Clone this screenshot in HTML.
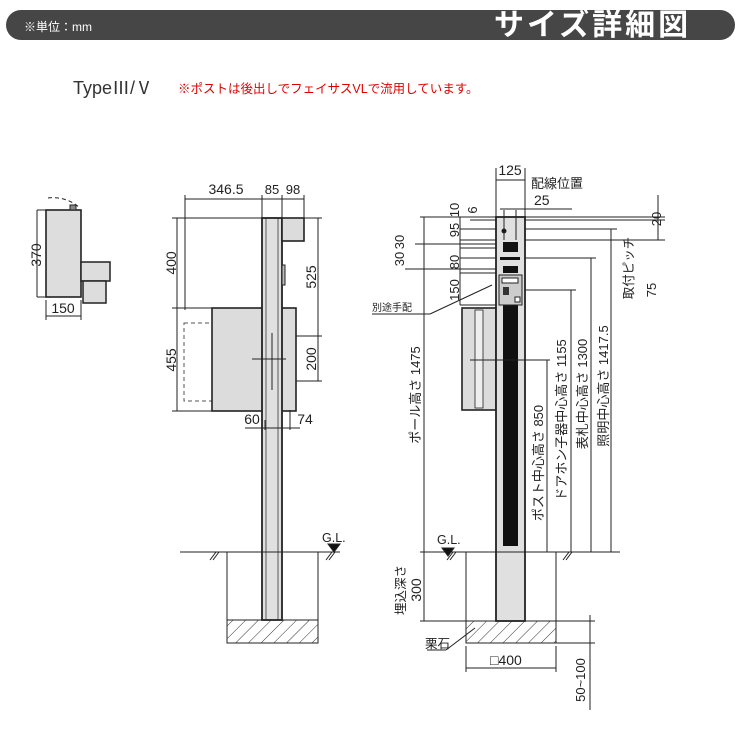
<!DOCTYPE html>
<html><head><meta charset="utf-8"><style>
html,body{margin:0;padding:0;background:#fff;width:740px;height:740px;overflow:hidden}
svg{display:block}
text{font-family:"Liberation Sans","Noto Sans CJK JP",sans-serif;fill:#222}
</style></head><body>
<svg width="740" height="740" viewBox="0 0 740 740" xmlns="http://www.w3.org/2000/svg">
<defs>
<pattern id="h" width="9" height="9" patternUnits="userSpaceOnUse" patternTransform="rotate(45)"><line x1="0" y1="0" x2="0" y2="9" stroke="#333" stroke-width="1"/></pattern>
</defs>
<rect x="6" y="10" width="729" height="30" rx="15" fill="#464646"/>
<text x="24" y="31" font-size="12" style="fill:#fff">※単位：mm</text>
<text x="494" y="35" font-size="30" font-weight="bold" letter-spacing="3" style="fill:#fff">サイズ詳細図</text>
<text x="73" y="94" font-size="18" style="fill:#333">TypeⅢ/Ⅴ</text>
<text x="178" y="93" font-size="12.5" style="fill:#e00000">※ポストは後出しでフェイサスVLで流用しています。</text>

<g stroke="#222" stroke-width="1" fill="none">
<path d="M48 198 A40 40 0 0 1 80 208" stroke-dasharray="4 3"/>
<rect x="46" y="210" width="35" height="87" fill="#ddd" stroke-width="1.6"/>
<rect x="81" y="262" width="29" height="19" fill="#ddd" stroke-width="1.5"/>
<rect x="83" y="281" width="23" height="22" fill="#ddd" stroke-width="1.5"/>
<rect x="70" y="205" width="6" height="5" fill="#888"/>
<line x1="37" y1="210" x2="46" y2="210"/><line x1="37" y1="297" x2="46" y2="297"/>
<line x1="37" y1="210" x2="37" y2="297"/>
<line x1="46" y1="300" x2="46" y2="320"/><line x1="81" y1="300" x2="81" y2="320"/>
<line x1="46" y1="316" x2="81" y2="316"/>

<line x1="185" y1="199" x2="304" y2="199"/>
<line x1="185" y1="195" x2="185" y2="310"/>
<line x1="262" y1="195" x2="262" y2="218"/><line x1="282" y1="195" x2="282" y2="218"/><line x1="304" y1="195" x2="304" y2="218"/>
<line x1="172" y1="218" x2="262" y2="218"/><line x1="172" y1="308" x2="212" y2="308"/><line x1="172" y1="411" x2="212" y2="411"/>
<line x1="177" y1="218" x2="177" y2="411"/>
<line x1="304" y1="218" x2="322" y2="218"/><line x1="296" y1="336" x2="322" y2="336"/><line x1="296" y1="381" x2="322" y2="381"/>
<line x1="318" y1="218" x2="318" y2="381"/>
<rect x="184" y="323" width="28" height="78" stroke-dasharray="4 3" stroke="#555"/>
<rect x="212" y="308" width="84" height="103" fill="#dcdcdc" stroke-width="1.6"/>
<rect x="262" y="218" width="20" height="402" fill="#e0e0e0" stroke-width="1.8"/>
<line x1="266" y1="218" x2="266" y2="620" stroke-width="0.7"/><line x1="278" y1="218" x2="278" y2="620" stroke-width="0.7"/>
<rect x="282" y="218" width="22" height="23" fill="#dcdcdc" stroke-width="1.6"/>
<rect x="282" y="265" width="3" height="20" fill="#bbb"/>
<line x1="252" y1="359" x2="286" y2="359"/><line x1="272" y1="333" x2="272" y2="390"/>
<line x1="265" y1="420" x2="265" y2="430"/><line x1="290" y1="410" x2="290" y2="430"/>
<line x1="245" y1="428" x2="300" y2="428"/>
<line x1="180" y1="552" x2="340" y2="552"/>
<polyline points="227,552 227,643 318,643 318,552"/>
<rect x="227" y="620" width="91" height="23" fill="url(#h)"/>
<polygon points="328,544 340,544 334,552" fill="#111"/>
<line x1="210" y1="560" x2="216" y2="552"/><line x1="213" y1="560" x2="219" y2="552"/>
<line x1="326" y1="560" x2="332" y2="552"/><line x1="329" y1="560" x2="335" y2="552"/>

<line x1="496" y1="168" x2="496" y2="217"/><line x1="525" y1="168" x2="525" y2="217"/>
<line x1="496" y1="180" x2="525" y2="180"/>
<line x1="500" y1="209" x2="572" y2="209"/>
<line x1="420" y1="217" x2="665" y2="217"/><line x1="470" y1="220" x2="665" y2="220"/>
<line x1="460" y1="240" x2="665" y2="240"/>
<line x1="460" y1="229" x2="617" y2="229"/>
<line x1="415" y1="244" x2="496" y2="244"/>
<line x1="460" y1="248" x2="496" y2="248"/>
<line x1="460" y1="258" x2="596" y2="258"/>
<line x1="405" y1="269" x2="496" y2="269"/>
<line x1="460" y1="273" x2="496" y2="273"/>
<line x1="520" y1="290" x2="576" y2="290"/>
<line x1="460" y1="305" x2="496" y2="305"/>
<line x1="460" y1="217" x2="460" y2="305"/>
<line x1="424" y1="217" x2="424" y2="621"/>
<line x1="658" y1="195" x2="658" y2="240"/>
<rect x="462" y="308" width="34" height="102" fill="#dcdcdc" stroke-width="1.6"/>
<rect x="475" y="310" width="8" height="98" fill="#eee" stroke-width="0.8"/>
<rect x="496" y="217" width="29" height="404" fill="#e0e0e0" stroke-width="1.8"/>
<rect x="503" y="305" width="15" height="241" fill="#111" stroke="none"/>
<rect x="503" y="242" width="15" height="10" fill="#111" stroke="none"/>
<rect x="503" y="266" width="15" height="7" fill="#111" stroke="none"/>
<rect x="500" y="257" width="20" height="3" fill="#111" stroke="none"/>
<rect x="499" y="275" width="23" height="30" fill="#ccc" stroke-width="1"/>
<rect x="502" y="278" width="16" height="5" fill="#fff"/>
<rect x="503" y="287" width="6" height="8" fill="#333" stroke="none"/>
<rect x="515" y="297" width="5" height="5" fill="#fff"/>
<circle cx="504" cy="231" r="2" fill="#111"/>
<line x1="504" y1="210" x2="504" y2="240"/>
<line x1="516" y1="210" x2="516" y2="240"/>
<line x1="372" y1="314" x2="430" y2="314"/>
<line x1="430" y1="314" x2="492" y2="285"/>
<line x1="547" y1="360" x2="547" y2="552"/><line x1="470" y1="360" x2="550" y2="360"/>
<line x1="571" y1="290" x2="571" y2="552"/>
<line x1="591" y1="258" x2="591" y2="552"/>
<line x1="611" y1="229" x2="611" y2="552"/>
<line x1="420" y1="552" x2="620" y2="552"/>
<line x1="420" y1="621" x2="466" y2="621"/>
<polyline points="466,552 466,643 556,643 556,552"/>
<rect x="466" y="621" width="90" height="22" fill="url(#h)"/>
<line x1="556" y1="621" x2="595" y2="621"/><line x1="556" y1="643" x2="595" y2="643"/>
<line x1="590" y1="615" x2="590" y2="710"/>
<line x1="466" y1="646" x2="466" y2="672"/><line x1="556" y1="646" x2="556" y2="672"/>
<line x1="466" y1="668" x2="556" y2="668"/>
<line x1="446" y1="650" x2="475" y2="628"/>
<line x1="427" y1="650" x2="446" y2="650"/>
<polygon points="442,548 454,548 448,556" fill="#111"/>
<line x1="447" y1="560" x2="453" y2="552"/><line x1="450" y1="560" x2="456" y2="552"/>
<line x1="563" y1="560" x2="569" y2="552"/><line x1="566" y1="560" x2="572" y2="552"/>
</g>

<g font-size="14">
<text transform="translate(41,255) rotate(-90)" text-anchor="middle">370</text>
<text x="63" y="313" text-anchor="middle">150</text>
<text x="226" y="194" text-anchor="middle">346.5</text>
<text x="272" y="194" text-anchor="middle" font-size="13">85</text>
<text x="293" y="194" text-anchor="middle" font-size="13">98</text>
<text transform="translate(176,263) rotate(-90)" text-anchor="middle">400</text>
<text transform="translate(176,360) rotate(-90)" text-anchor="middle">455</text>
<text transform="translate(316,277) rotate(-90)" text-anchor="middle">525</text>
<text transform="translate(316,359) rotate(-90)" text-anchor="middle">200</text>
<text x="252" y="424" text-anchor="middle">60</text>
<text x="305" y="424" text-anchor="middle">74</text>
<text x="322" y="542" font-size="12.5">G.L.</text>

<text x="510" y="175" text-anchor="middle">125</text>
<text x="531" y="188" font-size="13">配線位置</text>
<text x="534" y="205">25</text>
<text transform="translate(459,210) rotate(-90)" text-anchor="middle" font-size="13">10</text>
<text transform="translate(477,210) rotate(-90)" text-anchor="middle" font-size="13">6</text>
<text transform="translate(459,230) rotate(-90)" text-anchor="middle" font-size="13">95</text>
<text transform="translate(459,262) rotate(-90)" text-anchor="middle" font-size="13">80</text>
<text transform="translate(459,290) rotate(-90)" text-anchor="middle" font-size="13">150</text>
<text transform="translate(404,242) rotate(-90)" text-anchor="middle" font-size="13">30</text>
<text transform="translate(404,259) rotate(-90)" text-anchor="middle" font-size="13">30</text>
<text x="372" y="311" font-size="10">別途手配</text>
<text transform="translate(420,395) rotate(-90)" text-anchor="middle" font-size="13">ポール高さ  1475</text>
<text transform="translate(543,463) rotate(-90)" text-anchor="middle" font-size="13">ポスト中心高さ  850</text>
<text transform="translate(566,420) rotate(-90)" text-anchor="middle" font-size="13">ドアホン子器中心高さ  1155</text>
<text transform="translate(587,394) rotate(-90)" text-anchor="middle" font-size="13">表札中心高さ  1300</text>
<text transform="translate(608,386) rotate(-90)" text-anchor="middle" font-size="13">照明中心高さ  1417.5</text>
<text transform="translate(661,219) rotate(-90)" text-anchor="middle" font-size="13">20</text>
<text transform="translate(633,268) rotate(-90)" text-anchor="middle" font-size="12.5">取付ピッチ</text>
<text transform="translate(656,290) rotate(-90)" text-anchor="middle" font-size="13">75</text>
<text x="437" y="544" font-size="12.5">G.L.</text>
<text transform="translate(405,590) rotate(-90)" text-anchor="middle" font-size="12.5">埋込深さ</text>
<text transform="translate(421,590) rotate(-90)" text-anchor="middle">300</text>
<text x="425" y="648" font-size="12.5">栗石</text>
<text x="490" y="665">□400</text>
<text transform="translate(585,680) rotate(-90)" text-anchor="middle" font-size="13">50~100</text>
</g>
</svg>
</body></html>
